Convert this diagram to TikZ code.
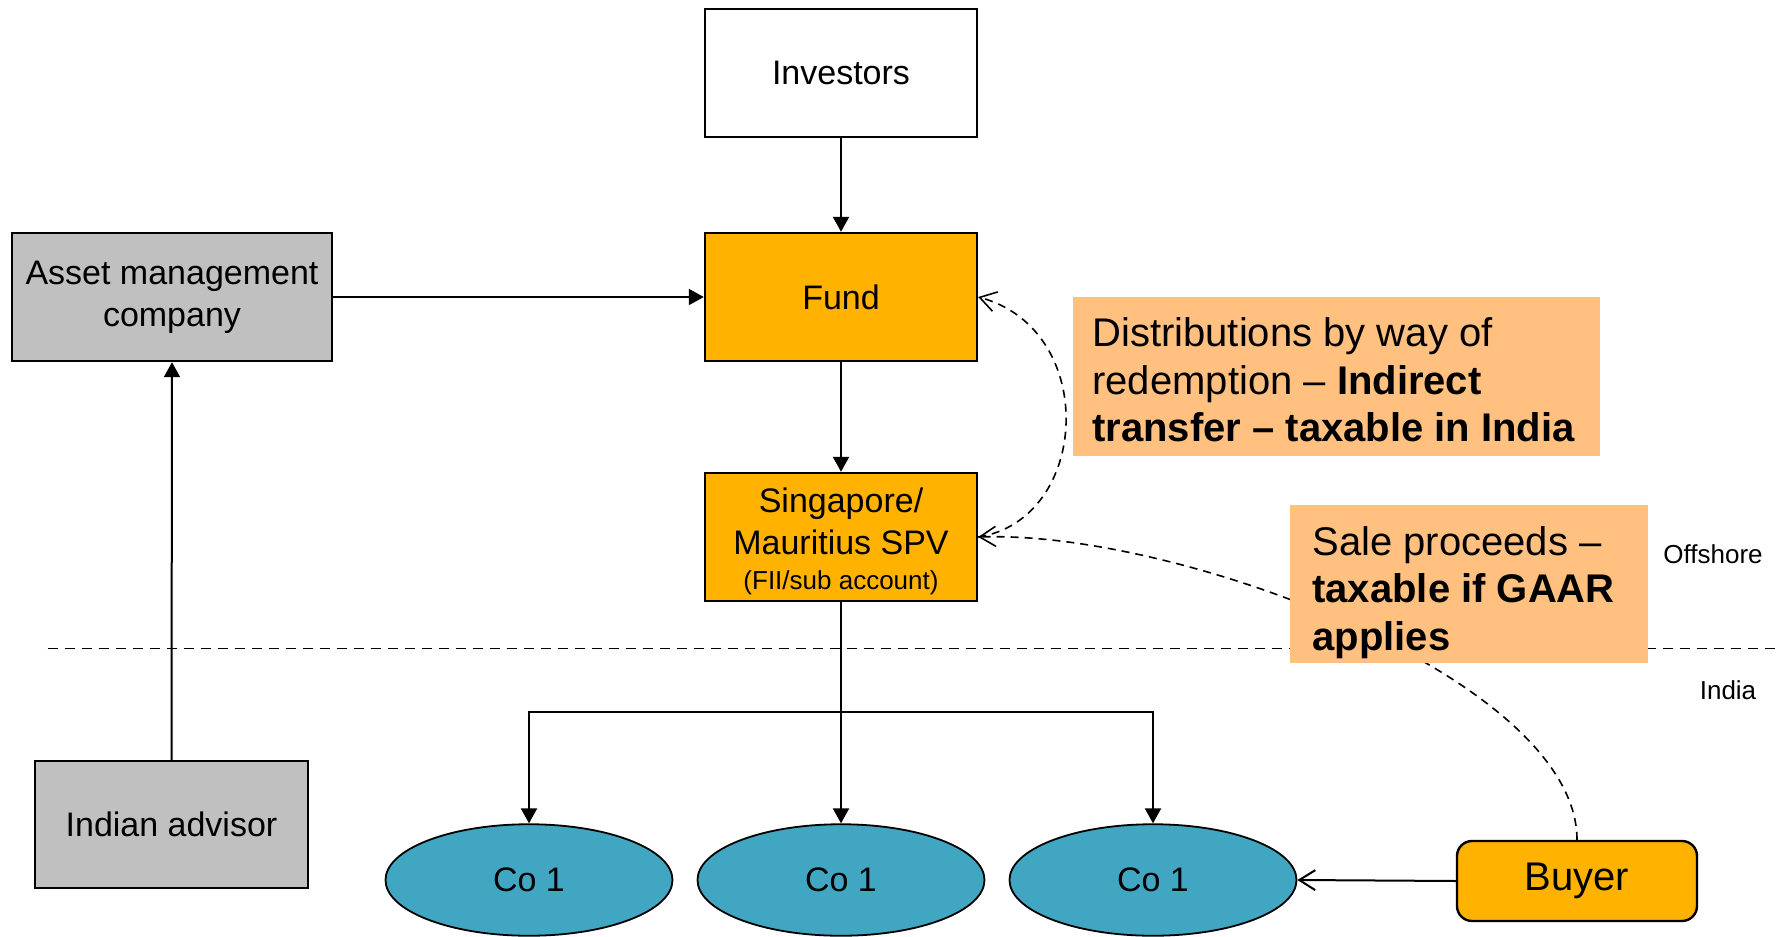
\documentclass[tikz,border=0pt]{standalone}
\usepackage{fontspec}
\setmainfont{Liberation Sans}
\usetikzlibrary{arrows.meta,shapes.geometric,backgrounds}
\definecolor{fundorange}{HTML}{FFB200}
\definecolor{notebg}{HTML}{FFC080}
\definecolor{boxgray}{HTML}{C0C0C0}
\definecolor{coteal}{HTML}{41A6C1}
\tikzset{
  box/.style={draw=black, line width=1.2pt, inner sep=0pt, align=center, font=\fontsize{17}{21}\selectfont},
  cobox/.style={ellipse, draw=black, line width=0.9pt, fill=coteal, minimum width=143.5pt, minimum height=55.75pt, inner sep=0pt, font=\fontsize{17}{20.5}\selectfont},
  notebox/.style={fill=notebg, inner sep=0pt},
  notetext/.style={anchor=base west, inner sep=0pt, align=left, font=\fontsize{20}{23.8}\selectfont},
  conn/.style={line width=1pt, -{Triangle[length=7.5pt,width=8pt]}},
  dconn/.style={line width=0.8pt, dash pattern=on 4pt off 3pt, -{Straight Barb[length=8pt,width=10pt]}},
  sidelabel/.style={font=\fontsize{13}{15}\selectfont, inner sep=0pt}
}
\begin{document}
\begin{tikzpicture}[x=0.5pt, y=-0.5pt]
\useasboundingbox (0,0) rectangle (1778,937);
% boxes
\node[box, fill=white, minimum width=136pt, minimum height=64pt] (inv) at (841,73) {Investors};
\node[box, fill=fundorange, minimum width=136pt, minimum height=64pt] (fund) at (841,297) {Fund};
\node[box, fill=fundorange, minimum width=136pt, minimum height=64pt,
  label={[align=center, inner sep=0pt, yshift=-2pt, font=\fontsize{17}{21}\selectfont]center:Singapore/\\Mauritius SPV\\[-3.5pt]{\fontsize{13}{15}\selectfont (FII/sub account)}}] (spv) at (841,537) {};
\node[box, fill=boxgray, minimum width=160pt, minimum height=64pt] (amc) at (172,297) {Asset management\\company};
\node[box, fill=boxgray, minimum width=136.5pt, minimum height=63.5pt] (adv) at (171.5,824.5) {Indian advisor};
\node[cobox] (co1) at (529,880) {Co 1};
\node[cobox] (co2) at (841,880) {Co 1};
\node[cobox] (co3) at (1153,880) {Co 1};
\node[box, fill=fundorange, rounded corners=7.5pt, minimum width=120pt, minimum height=40pt, font=\fontsize{20}{24}\selectfont] (buyer) at (1577,881) {Buyer};
% notes
\node[notebox, minimum width=263.5pt, minimum height=79.5pt] (dist) at (1336.5,376.5) {};
\node[notetext] (disttext) at (1092,441.7) {Distributions by way of\\redemption -- \textbf{Indirect}\\\textbf{transfer -- taxable in India}};
\node[notebox, minimum width=179pt, minimum height=79pt] (sale) at (1469,584) {};
\node[notetext] (saletext) at (1312,650.2) {Sale proceeds --\\\textbf{taxable if GAAR}\\\textbf{applies}};
% side labels
\node[sidelabel] (off) at (1713,554) {Offshore};
\node[sidelabel] (ind) at (1728,690) {India};
% background dashed items
\begin{pgfonlayer}{background}
\coordinate (dl) at (47.6,648.6);
\coordinate (dr) at (1778,648.6);
\draw[line width=0.8pt, dash pattern=on 5pt off 3.5pt] (dl) -- (dr);
\draw[dconn] (buyer.north) .. controls (1577,680) and (1180,530) .. (spv.east);
\end{pgfonlayer}
\draw[dconn] (spv.east) .. controls (1090,520) and (1100,330) .. (fund.east);
% connectors
\draw[conn] (inv.south) -- (fund.north);
\draw[conn] (amc.east) -- (fund.west);
\draw[conn] (fund.south) -- (spv.north);
\draw[conn] (adv.north) -- (amc.south);
\coordinate (br) at (841,712);
\draw[conn] (spv.south) -- (co2.north);
\draw[conn] (br) -| (co1.north);
\draw[conn] (br) -| (co3.north);
\draw[line width=1pt, -{Straight Barb[length=8pt,width=10pt]}] (buyer.west) -- (co3.east);
\end{tikzpicture}
\end{document}
